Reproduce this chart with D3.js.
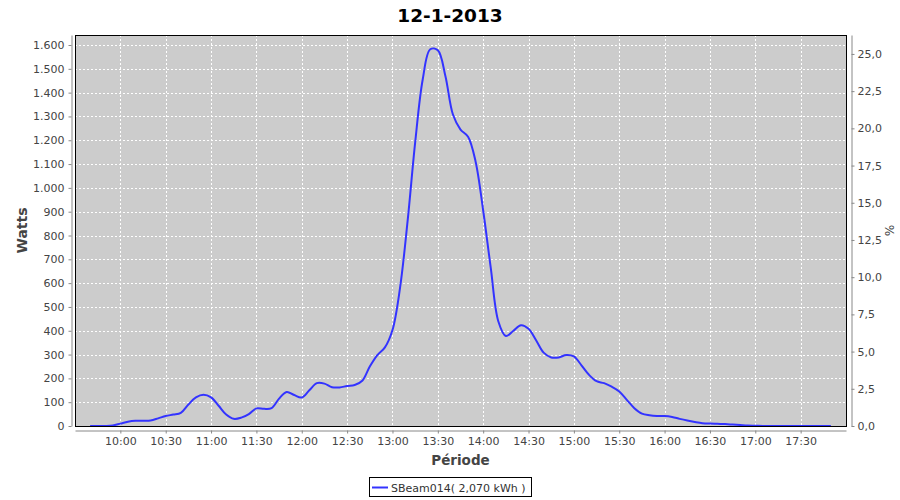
<!DOCTYPE html>
<html>
<head>
<meta charset="utf-8">
<script src="https://cdn.jsdelivr.net/npm/d3@7/dist/d3.min.js"></script>
<style>
  body { margin: 0; background: #ffffff; }
  svg { display: block; font-family: "DejaVu Sans", sans-serif; }
</style>
</head>
<body>
<svg id="chart" width="900" height="500"></svg>
<script>
// ---- Data ----
const times = ["09:40","09:45","09:50","09:55","10:00","10:05","10:10","10:15","10:20","10:25",
  "10:30","10:35","10:40","10:45","10:50","10:55","11:00","11:05","11:10","11:15",
  "11:20","11:25","11:30","11:35","11:40","11:45","11:50","11:55","12:00","12:05",
  "12:10","12:15","12:20","12:25","12:30","12:35","12:40","12:45","12:50","12:55",
  "13:00","13:05","13:10","13:15","13:20","13:25","13:30","13:35","13:40","13:45",
  "13:50","13:55","14:00","14:05","14:10","14:15","14:20","14:25","14:30","14:35",
  "14:40","14:45","14:50","14:55","15:00","15:05","15:10","15:15","15:20","15:25",
  "15:30","15:35","15:40","15:45","15:50","15:55","16:00","16:05","16:10","16:15",
  "16:20","16:25","16:30","16:35","16:40","16:45","16:50","16:55","17:00","17:05",
  "17:10","17:15","17:20","17:25","17:30","17:35","17:40","17:45","17:50"];
const watts = [0,0,0,2,10,18,22,22,23,32,
  42,48,55,90,120,131,120,85,48,30,
  35,50,74,72,75,115,143,130,120,150,
  180,178,163,162,168,172,190,250,298,330,
  403,580,860,1190,1455,1582,1578,1470,1308,1245,
  1215,1110,905,665,440,378,400,423,408,360,
  308,288,288,298,292,255,215,188,180,165,
  145,110,75,52,45,42,42,38,30,23,
  17,12,10,9,8,6,4,2,1,0,
  0,0,0,0,0,0,0,0,0];
const tickLabels = ["10:00","10:30","11:00","11:30","12:00","12:30","13:00","13:30",
  "14:00","14:30","15:00","15:30","16:00","16:30","17:00","17:30"];
const wattTicks = [0,100,200,300,400,500,600,700,800,900,1000,1100,1200,1300,1400,1500,1600];
const pctTicks = [0,2.5,5,7.5,10,12.5,15,17.5,20,22.5,25];
const title = "12-1-2013";
const seriesName = "SBeam014( 2,070 kWh )";
const installedWatts = 6250; // 100 %

// ---- Layout ----
const svg = d3.select("#chart");
const L = 75, R = 846, T = 35, B = 426;
const parse = s => { const [h, m] = s.split(":").map(Number); return new Date(2013, 0, 12, h, m); };
const data = times.map((t, i) => ({ t: parse(t), v: watts[i] }));

const x = d3.scaleTime().domain([parse("09:30"), parse("18:00")]).range([L, R]);
const y = d3.scaleLinear().domain([0, 1642]).range([B, T]);
const y2 = d3.scaleLinear().domain([0, 1642 / installedWatts * 100]).range([B, T]);

const loc = d3.formatLocale({ decimal: ",", thousands: ".", grouping: [3], currency: ["", ""] });
const fW = loc.format(",d");
const fP = loc.format(".1f");
const fT = d3.timeFormat("%H:%M");

// plot background
svg.append("rect").attr("x", L).attr("y", T).attr("width", R - L).attr("height", B - T)
  .attr("fill", "#cccccc");

// grid
const grid = svg.append("g").attr("stroke", "#ffffff").attr("stroke-width", 1)
  .attr("stroke-dasharray", "2,2").attr("shape-rendering", "crispEdges");
grid.selectAll("line.v").data(tickLabels.map(parse)).join("line")
  .attr("x1", d => Math.round(x(d)) + 0.5).attr("x2", d => Math.round(x(d)) + 0.5)
  .attr("y1", T).attr("y2", B);
grid.selectAll("line.h").data(wattTicks.filter(d => d > 0)).join("line")
  .attr("class", "h")
  .attr("x1", L).attr("x2", R)
  .attr("y1", d => Math.round(y(d)) + 0.5).attr("y2", d => Math.round(y(d)) + 0.5);

// line
const line = d3.line().x(d => x(d.t)).y(d => Math.min(B, y(d.v))).curve(d3.curveCatmullRom.alpha(0.5));
svg.append("path").datum(data).attr("d", line)
  .attr("fill", "none").attr("stroke", "#3333ff").attr("stroke-width", 2);

// border
svg.append("rect").attr("x", L + 0.5).attr("y", T + 0.5).attr("width", R - L).attr("height", B - T)
  .attr("fill", "none").attr("stroke", "#000000").attr("stroke-width", 1);

// axes
function styleAxis(g) {
  g.selectAll("path.domain").attr("stroke", "#888888");
  g.selectAll(".tick line").attr("stroke", "#888888");
  g.selectAll(".tick text").attr("fill", "#444444").attr("font-size", 11)
    .attr("font-family", "'DejaVu Sans', sans-serif");
}
svg.append("g").attr("transform", "translate(71.5,0)")
  .call(d3.axisLeft(y).tickValues(wattTicks).tickFormat(fW).tickSize(3).tickSizeOuter(0).tickPadding(4))
  .call(styleAxis);
svg.append("g").attr("transform", "translate(851.5,0)")
  .call(d3.axisRight(y2).tickValues(pctTicks).tickFormat(fP).tickSize(3).tickSizeOuter(0).tickPadding(3))
  .call(styleAxis);
svg.append("g").attr("transform", "translate(0,430.5)")
  .call(d3.axisBottom(x).tickValues(tickLabels.map(parse)).tickFormat(fT).tickSize(3).tickSizeOuter(0).tickPadding(4))
  .call(styleAxis);

// titles
svg.append("text").attr("x", 450).attr("y", 22).attr("text-anchor", "middle")
  .attr("font-size", 18.5).attr("font-weight", "bold").attr("fill", "#000").text(title);
svg.append("text").attr("transform", "translate(27," + ((T + B) / 2) + ") rotate(-90)")
  .attr("text-anchor", "middle").attr("font-size", 14).attr("font-weight", "bold")
  .attr("fill", "#444444").text("Watts");
svg.append("text").attr("x", (L + R) / 2).attr("y", 465).attr("text-anchor", "middle")
  .attr("font-size", 13.5).attr("font-weight", "bold").attr("fill", "#444444").text("Période");
svg.append("text").attr("transform", "translate(885," + ((T + B) / 2) + ") rotate(90)")
  .attr("text-anchor", "middle").attr("font-size", 12).attr("fill", "#444444").text("%");

// legend
const lg = svg.append("g");
lg.append("rect").attr("x", 369.5).attr("y", 477.5).attr("width", 162).attr("height", 19)
  .attr("fill", "#ffffff").attr("stroke", "#000000").attr("stroke-width", 1);
lg.append("line").attr("x1", 372).attr("x2", 388).attr("y1", 487.5).attr("y2", 487.5)
  .attr("stroke", "#3333ff").attr("stroke-width", 2);
lg.append("text").attr("x", 391).attr("y", 491.5).attr("font-size", 11).attr("fill", "#333333")
  .text(seriesName);
</script>
</body>
</html>
